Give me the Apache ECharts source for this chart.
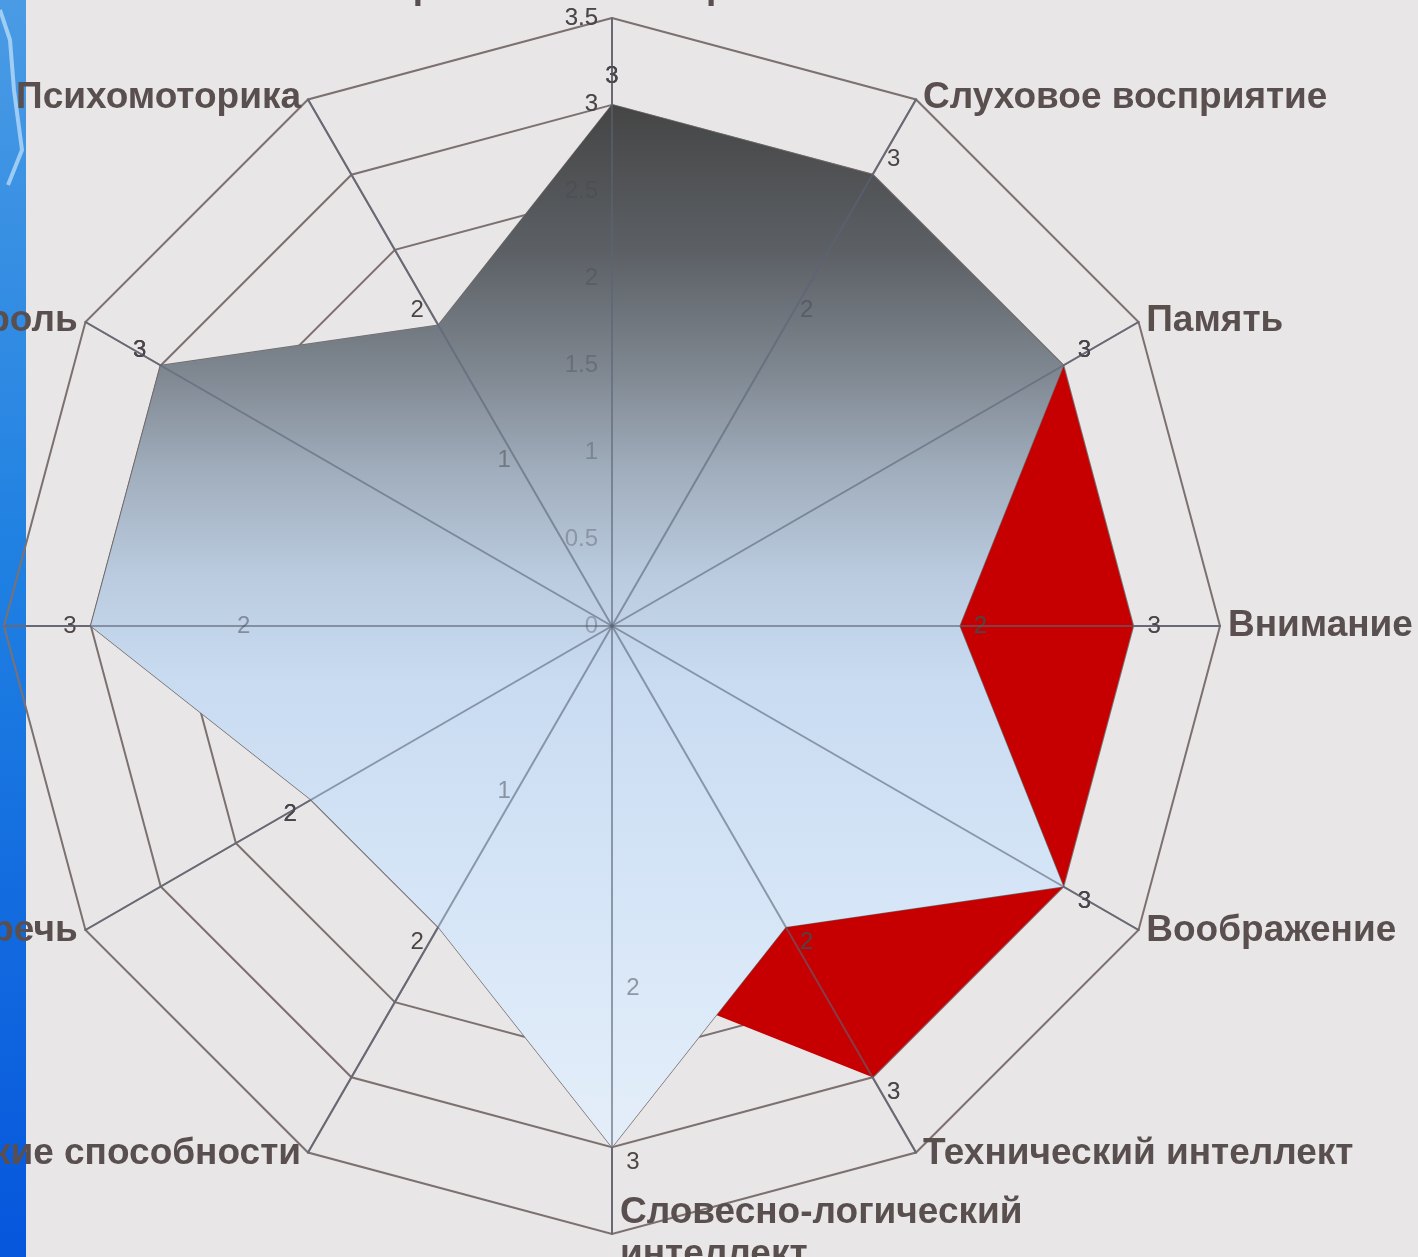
<!DOCTYPE html>
<html>
<head>
<meta charset="utf-8">
<script src="https://cdn.jsdelivr.net/npm/echarts@6/dist/echarts.min.js"></script>
<style>
  html, body { margin: 0; padding: 0; background: #e8e6e6; }
  #chart { width: 1418px; height: 1257px; }
</style>
</head>
<body>
<div id="chart"></div>
<script>
// axes listed clockwise from the top, as they appear in the picture
const categories = [
  'Зрительное восприятие', 'Слуховое восприятие', 'Память', 'Внимание',
  'Воображение', 'Технический интеллект', 'Словесно-логический\nинтеллект',
  'Математические способности', 'Устная речь', 'Мышление', 'Самоконтроль', 'Психомоторика'
];
const grayValues = [3, 3, 3, 2, 3, 2, 3, 2, 2, 3, 3, 2];
const redValues  = [3, 2, 3, 3, 3, 3, 2, 1, 2, 2, 3, 1];
const tickLabels = ['0', '0.5', '1', '1.5', '2', '2.5', '3', '3.5'];

const chart = echarts.init(document.getElementById('chart'));

const CX = 612, CY = 626, R = 608;
const axisMax = Number(tickLabels[tickLabels.length - 1]);

// echarts runs radar indicators counter-clockwise, so flip the order after the first one
const order = categories.map((_, i) => (i === 0 ? 0 : categories.length - i));
const pick = arr => order.map(k => arr[k]);

const nameFont = {
  color: '#5a4f4f', fontSize: 37, fontWeight: 'bold',
  fontFamily: 'Liberation Sans, Arial', padding: [4, 6, 0, 6]
};
const numFont = { fontSize: 24, fontFamily: 'Liberation Sans Narrow, Liberation Sans, Arial' };

function indicators(labelColor) {
  return order.map((k, i) => {
    const ind = { name: categories[k], min: 0, max: axisMax };
    if (i === 0) {
      ind.nameGap = 3;
      ind.nameTextStyle = { padding: 0 };
      ind.axisLabel = Object.assign({ show: true, color: labelColor, margin: 14,
        formatter: v => tickLabels[Math.round(v * 2)] }, numFont);
    }
    if (k === 6) {
      ind.nameGap = 0;
      ind.nameTextStyle = { align: 'left', verticalAlign: 'middle', padding: [0, 0, 0, 8], lineHeight: 42 };
    }
    return ind;
  });
}

// data labels sit beside each vertex, pushed outward sideways
function placeLabel(p) {
  const x = p.rect.x + p.rect.width / 2;
  const y = p.rect.y + p.rect.height / 2;
  const dx = x - CX, dy = y - CY;
  if (Math.abs(dx) < 2 && dy < 0) {
    return { x: x, y: y - 28, align: 'center', verticalAlign: 'middle' };
  }
  return {
    x: x + (dx > -2 ? 21 : -21),
    y: y + (Math.abs(dy) < 2 ? 0 : (dy > 0 ? 15 : -15)),
    align: 'center', verticalAlign: 'middle'
  };
}

const option = {
  backgroundColor: '#e8e6e6',
  animation: false,
  graphic: {
    elements: [
      {
        type: 'rect', z: -10, silent: true,
        shape: { x: 0, y: 0, width: 26, height: 1257 },
        style: {
          fill: new echarts.graphic.LinearGradient(0, 0, 0, 1, [
            { offset: 0, color: '#4a9be4' },
            { offset: 0.45, color: '#1f80e2' },
            { offset: 1, color: '#0656dc' }
          ])
        }
      },
      {
        type: 'polyline', z: -9, silent: true,
        shape: { points: [[0, 10], [10, 40], [14, 90], [22, 150], [8, 185]] },
        style: { stroke: 'rgba(220,240,255,0.6)', lineWidth: 4, fill: null }
      }
    ]
  },
  radar: [
    {
      // rings, names and dark tick labels underneath the areas
      z: 1,
      center: [CX, CY],
      radius: R,
      startAngle: 90,
      shape: 'polygon',
      splitNumber: tickLabels.length - 1,
      indicator: indicators('#4d4545'),
      axisName: nameFont,
      nameGap: 2,
      axisLine: { lineStyle: { color: '#7d7070', width: 2 } },
      splitLine: { lineStyle: { color: '#7d7070', width: 2 } },
      splitArea: { show: false },
      axisTick: { show: false }
    },
    {
      // spokes and faint tick labels drawn over the filled areas
      z: 4,
      center: [CX, CY],
      radius: R,
      startAngle: 90,
      shape: 'polygon',
      splitNumber: tickLabels.length - 1,
      indicator: indicators('rgba(70,70,80,0.35)'),
      axisName: { show: false },
      axisLine: { lineStyle: { color: 'rgba(90,100,118,0.6)', width: 2 } },
      splitLine: { show: false },
      splitArea: { show: false },
      axisTick: { show: false }
    }
  ],
  series: [
    {
      type: 'radar', radarIndex: 0, z: 2, silent: true,
      symbol: 'circle', symbolSize: 1,
      itemStyle: { color: 'rgba(0,0,0,0)' },
      lineStyle: { width: 0, opacity: 0 },
      areaStyle: { color: '#c60000', opacity: 1 },
      label: Object.assign({ show: true, color: '#4d4545' }, numFont),
      labelLayout: placeLabel,
      data: [{ value: pick(redValues) }]
    },
    {
      type: 'radar', radarIndex: 0, z: 3, silent: true,
      symbol: 'circle', symbolSize: 1,
      itemStyle: { color: 'rgba(0,0,0,0)' },
      lineStyle: { width: 1.5, color: '#6f6868' },
      areaStyle: {
        opacity: 1,
        color: new echarts.graphic.LinearGradient(0, 0, 0, 1, [
          { offset: 0, color: '#454545' },
          { offset: 0.14, color: '#5c6065' },
          { offset: 0.25, color: '#7d858e' },
          { offset: 0.35, color: '#a0adbc' },
          { offset: 0.45, color: '#bacbdf' },
          { offset: 0.55, color: '#c9dbf1' },
          { offset: 0.75, color: '#d5e5f7' },
          { offset: 1, color: '#e4eef9' }
        ])
      },
      label: Object.assign({ show: true, color: '#4d4545' }, numFont),
      labelLayout: placeLabel,
      data: [{ value: pick(grayValues) }]
    },
    {
      // labels of the red series that show faintly through the grey area
      type: 'radar', radarIndex: 1, z: 5, silent: true,
      symbol: 'circle', symbolSize: 1,
      itemStyle: { color: 'rgba(0,0,0,0)' },
      lineStyle: { width: 0, opacity: 0 },
      label: Object.assign({ show: true, color: 'rgba(70,70,80,0.5)' }, numFont),
      labelLayout: placeLabel,
      data: [{ value: pick(redValues) }]
    }
  ]
};

chart.setOption(option);
</script>
</body>
</html>
